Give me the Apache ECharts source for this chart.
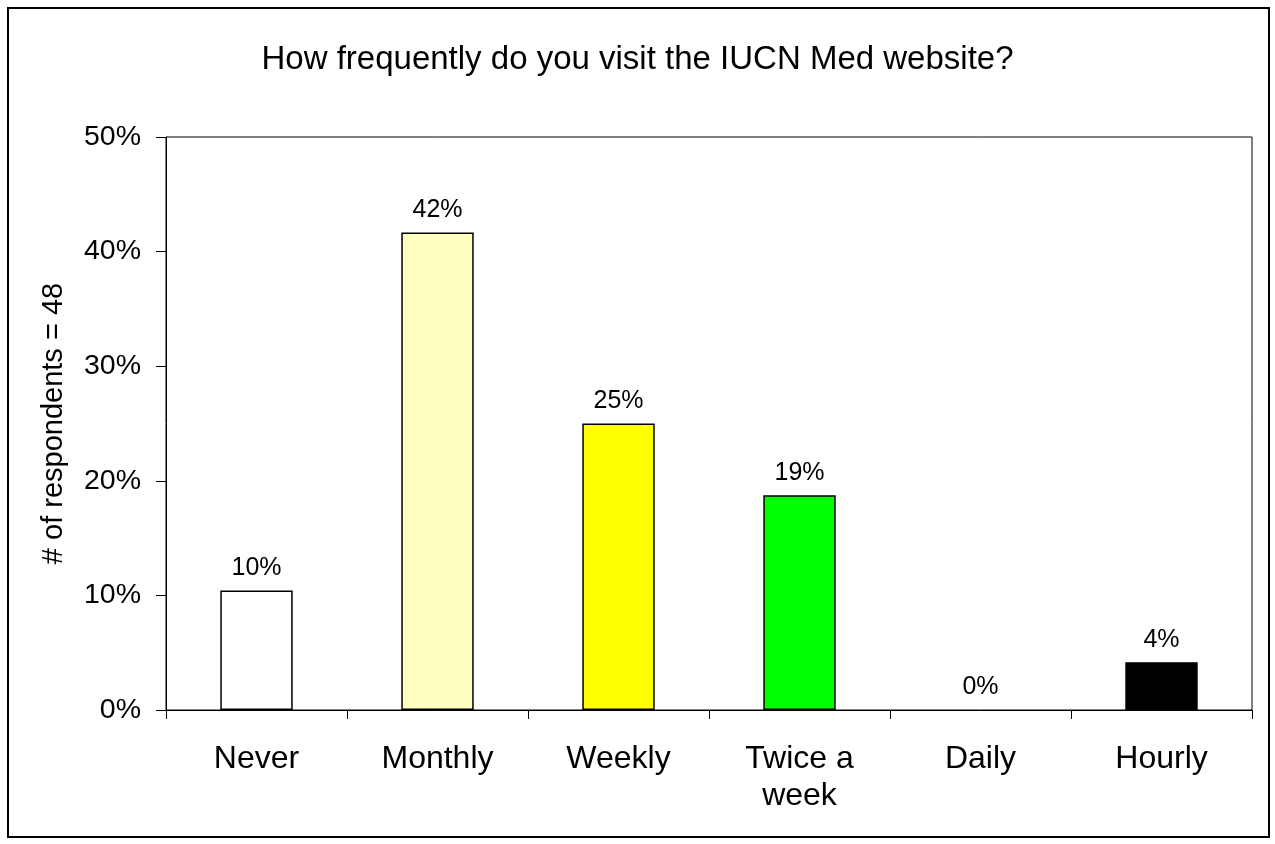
<!DOCTYPE html>
<html>
<head>
<meta charset="utf-8">
<script src="https://cdn.jsdelivr.net/npm/echarts@6/dist/echarts.min.js"></script>
<style>
  html, body { margin: 0; padding: 0; background: #fff; }
  #frame {
    position: absolute; left: 7px; top: 7px;
    width: 1259px; height: 827px;
    border: 2px solid #000;
  }
  #chart { position: absolute; left: 0; top: 0; width: 1275px; height: 844px; }
</style>
</head>
<body>
<div id="frame"></div>
<div id="chart"></div>
<script>
  // survey answers, share of 48 respondents
  const categories = ['Never', 'Monthly', 'Weekly', 'Twice a\nweek', 'Daily', 'Hourly'];
  const shares = [0.1042, 0.4167, 0.25, 0.1875, 0, 0.0417];
  const barColors = ['#FFFFFF', '#FFFFC0', '#FFFF00', '#00FF00', '#808080', '#000000'];

  const font = 'Liberation Sans, Arial, sans-serif';
  let myChart = echarts.init(document.getElementById('chart'));

  let option = {
    title: {
      text: 'How frequently do you visit the IUCN Med website?',
      left: 'center',
      top: 38,
      textStyle: { fontFamily: font, fontSize: 33, fontWeight: 'normal', color: '#000' }
    },
    grid: {
      left: 166, top: 137, right: 23, bottom: 134,
      show: true, borderColor: '#000', borderWidth: 1
    },
    xAxis: {
      type: 'category',
      data: categories,
      axisLine: { lineStyle: { color: '#000' } },
      axisTick: { show: true, length: 9, lineStyle: { color: '#000' } },
      axisLabel: {
        color: '#000', fontFamily: font, fontSize: 32, margin: 31, lineHeight: 37,
        interval: 0
      }
    },
    yAxis: {
      type: 'value',
      min: 0, max: 0.5, interval: 0.1,
      name: '# of respondents = 48',
      nameLocation: 'middle',
      nameGap: 98,
      nameTextStyle: { fontFamily: font, fontSize: 29, color: '#000' },
      splitLine: { show: false },
      axisLine: { show: true, lineStyle: { color: '#000' } },
      axisTick: { show: true, length: 10, lineStyle: { color: '#000' } },
      axisLabel: {
        color: '#000', fontFamily: font, fontSize: 28.5, margin: 25,
        formatter: v => Math.round(v * 100) + '%'
      }
    },
    series: [{
      type: 'bar',
      barWidth: '40%',
      data: shares.map((v, i) => ({
        value: v,
        itemStyle: { color: barColors[i], borderColor: '#000', borderWidth: v > 0 ? 1.5 : 0 }
      })),
      label: {
        show: true, position: 'top', distance: 10,
        fontFamily: font, fontSize: 25, color: '#000',
        formatter: p => Math.round(p.value * 100) + '%'
      }
    }],
    animation: false
  };

  myChart.setOption(option);
</script>
</body>
</html>
